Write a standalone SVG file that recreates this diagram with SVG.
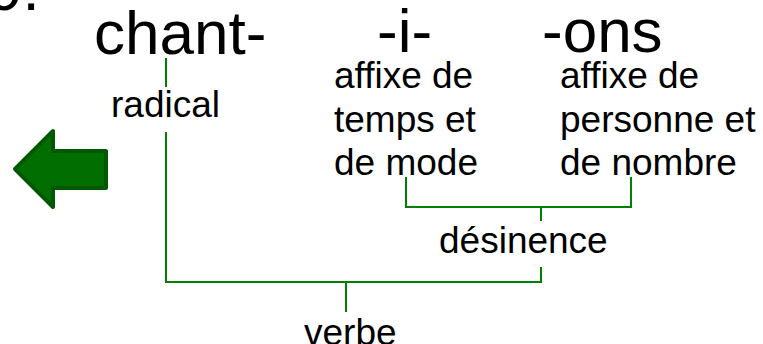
<svg xmlns="http://www.w3.org/2000/svg" width="763" height="344" viewBox="0 0 763 344">
<style>
.big{font-family:"Liberation Sans",Arial,sans-serif;font-size:62px;fill:#000}
.sm{font-family:"Liberation Sans",Arial,sans-serif;font-size:37px;fill:#000}
.ln{stroke:#007f00;stroke-width:2;fill:none}
</style>
<rect width="763" height="344" fill="#fff"/>
<g id="label-top"><text class="big" x="-12" y="10">9.</text></g>
<g id="arrow"><polygon points="15,169 53,131 53,151 106,151 106,188 53,188 53,207" fill="#006e00" stroke="#005800" stroke-width="4" stroke-linejoin="round"/></g>
<g id="chant"><text class="big" x="94" y="54">chant-</text></g>
<g id="i"><text class="big" x="377" y="52">-i-</text></g>
<g id="ons"><text class="big" x="542" y="52">-ons</text></g>
<g id="radical"><text class="sm" x="111" y="117">radical</text></g>
<g id="temps"><text class="sm" x="334"><tspan x="334" y="88">affixe de</tspan><tspan x="334" y="132">temps et</tspan><tspan x="334" y="175">de mode</tspan></text></g>
<g id="personne"><text class="sm" x="560"><tspan x="560" y="88">affixe de</tspan><tspan x="560" y="132">personne et</tspan><tspan x="560" y="175">de nombre</tspan></text></g>
<g id="desinence"><text class="sm" x="439" y="253">désinence</text></g>
<g id="verbe"><text class="sm" x="304" y="345">verbe</text></g>
<g id="connectors">
<line class="ln" x1="166" y1="58" x2="166" y2="87"/>
<polyline class="ln" points="406,177 406,207 631,207 631,177"/>
<line class="ln" x1="541" y1="207" x2="541" y2="221"/>
<polyline class="ln" points="166,132 166,282 541,282 541,267"/>
<line class="ln" x1="346" y1="282" x2="346" y2="312"/>
</g>
</svg>
